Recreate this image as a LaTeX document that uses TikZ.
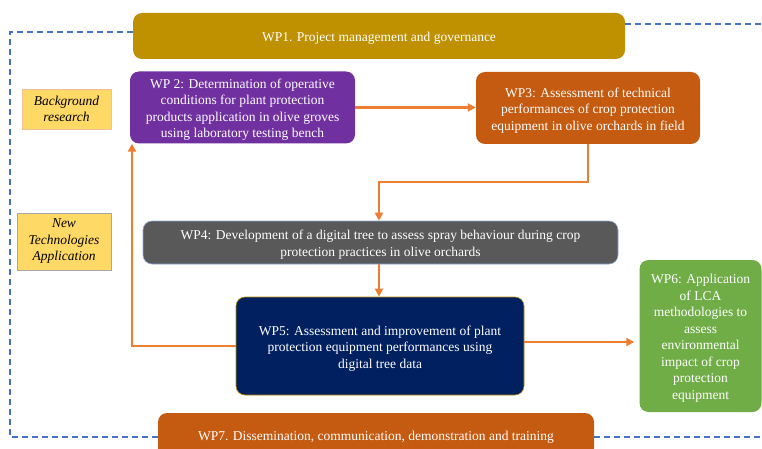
\documentclass[tikz,border=0pt]{standalone}
\usepackage{fontspec}
\setmainfont{Liberation Serif}
\usetikzlibrary{arrows.meta}
\definecolor{cgold}{HTML}{BF9000}
\definecolor{cpurple}{HTML}{7030A0}
\definecolor{corange}{HTML}{C55A11}
\definecolor{cgray}{HTML}{595959}
\definecolor{cnavy}{HTML}{002060}
\definecolor{cgreen}{HTML}{70AD47}
\definecolor{cyellow}{HTML}{FFD966}
\definecolor{carrow}{HTML}{ED7D31}
\definecolor{cblue}{HTML}{4472C4}
\newcommand{\tst}{\rule{0pt}{14pt}}
\begin{document}
\begin{tikzpicture}[x=1pt,y=-1pt,
  wp/.style={rounded corners=9pt, text=white, align=center, inner sep=0pt, font=\fontsize{13.5}{16.5}\selectfont},
  side/.style={fill=cyellow, align=center, inner sep=0pt, font=\fontsize{13.5}{16.5}\selectfont\itshape},
  arr/.style={draw=carrow, line width=2.4pt, -{Triangle[length=8pt,width=8pt]}},
  dashline/.style={draw=cblue, line width=1.8pt, dash pattern=on 6pt off 4pt}]
\useasboundingbox[fill=white] (0,0) rectangle (762,449);
\node[wp, fill=cgold, minimum width=492pt, minimum height=46pt] (wp1) at (379,36) {\tst WP1. Project management and governance};
\node[wp, fill=cpurple, minimum width=225pt, minimum height=72pt] (wp2) at (242.5,107.5) {\tst WP 2: Determination of operative\\conditions for plant protection\\products application in olive groves\\using laboratory testing bench};
\node[wp, fill=corange, minimum width=224pt, minimum height=72pt] (wp3) at (588,108) {\tst WP3: Assessment of technical\\performances of crop protection\\equipment in olive orchards in field};
\node[side, draw=carrow!50, minimum width=89pt, minimum height=40pt] (bg) at (66.5,109) {Background\\research};
\node[side, draw=gray!70, minimum width=94pt, minimum height=57pt] (nt) at (64,241.5) {New\\Technologies\\Application};
\node[wp, fill=cgray, draw=cblue!60, line width=0.6pt, minimum width=475pt, minimum height=43pt] (wp4) at (380.5,242.5) {\tst WP4: Development of a digital tree to assess spray behaviour during crop\\protection practices in olive orchards};
\node[wp, fill=cnavy, draw=cgold, line width=0.6pt, minimum width=288pt, minimum height=98pt] (wp5) at (380,346) {\tst WP5: Assessment and improvement of plant\\protection equipment performances using\\digital tree data};
\node[wp, fill=cgreen, minimum width=122pt, minimum height=152pt] (wp6) at (700.5,336) {\tst WP6: Application\\of LCA\\methodologies to\\assess\\environmental\\impact of crop\\protection\\equipment};
\node[wp, fill=corange, minimum width=436pt, minimum height=44pt] (wp7) at (376,435) {\tst WP7. Dissemination, communication, demonstration and training};
\coordinate (lft) at (132,0);
\coordinate (dl) at (10,0);
\coordinate (dr) at (762,0);
% connectors
\draw[arr] (wp2.east) -- (wp3.west |- wp2.east);
\draw[arr] (wp3.south) -- (wp3.south |- 0,182) -| ([xshift=-1.5pt]wp4.north);
\draw[arr] ([xshift=-1.5pt]wp4.south) -- ([xshift=-1pt]wp5.north);
\draw[arr] (wp5.west) -| (wp2.south -| lft);
\coordinate (a56) at ([yshift=4pt]wp5.east);
\draw[arr] (a56) -- ([xshift=-5pt]wp6.west |- a56);
% dashed frame
\coordinate (d1) at ([yshift=4pt]wp1.west);
\coordinate (d2) at ([yshift=-2pt]wp7.west);
\coordinate (d3) at ([yshift=12pt]wp1.east);
\coordinate (d4) at ([yshift=-2pt]wp7.east);
\draw[dashline] (d1) -- (d1 -| dl) -- (d2 -| dl) -- (d2);
\draw[dashline] (d3) -- (d3 -| dr);
\draw[dashline] (d4) -- (d4 -| dr);
\end{tikzpicture}
\end{document}
